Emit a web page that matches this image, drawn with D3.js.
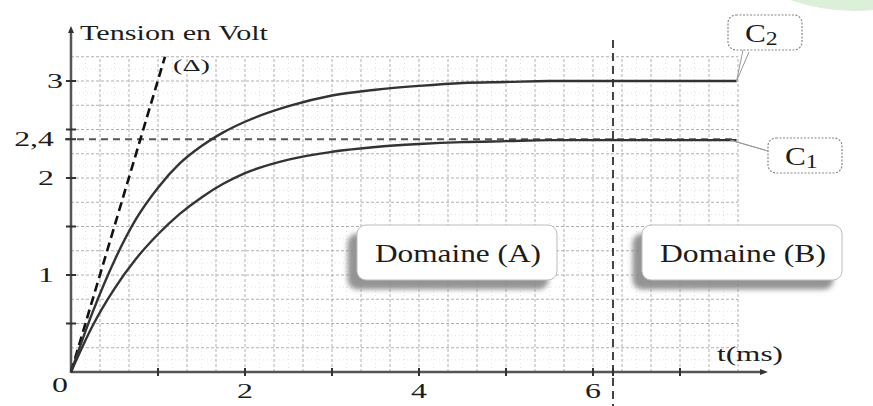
<!DOCTYPE html>
<html>
<head>
<meta charset="utf-8">
<script src="https://cdn.jsdelivr.net/npm/d3@7"></script>
<style>
  body { margin: 0; background: #fff; }
  text { font-family: "Liberation Serif", "DejaVu Serif", serif; fill: #1c1c1c; }
</style>
</head>
<body>
<div id="main"></div>
<script>
const ctx = {
    w: 873,
    h: 406,
    x0: 71, x1: 738,     // pixel range for t in [0, 23/3]
    y0: 372, y1: 81,     // pixel range for u in [0, 3]
    AXIS: "#555",
    CURVE: "#333",
    GRID: "#b0b0b0",
    SX: 1.45,            // the picture is stretched horizontally
};

// sample times (ms) and voltages (V)
const timesMs = [0, 0.25, 0.5, 0.75, 1, 1.25, 1.5, 1.75, 2, 2.5, 3, 3.5, 4, 4.5, 5, 5.5, 6, 7.65];
const c2Volts = [0, 0.62, 1.15, 1.58, 1.9, 2.15, 2.33, 2.47, 2.58, 2.74, 2.85, 2.91, 2.95, 2.98, 2.99, 3.0, 3.0, 3.0];
const c1Volts = [0, 0.48, 0.86, 1.17, 1.42, 1.63, 1.8, 1.94, 2.05, 2.19, 2.27, 2.32, 2.35, 2.37, 2.38, 2.39, 2.39, 2.39];
// tangent (Δ) at the origin
const deltaT = [0, 1.08];
const deltaU = [0, 3.25];
// reference levels
const U_REF = 2.4;
const T_DOMAIN = 6.23;
// ticks and labels
const xTicks = [1, 2, 3, 4, 5, 6, 7, 6.23];
const xLabels = [2, 4, 6];
const yTicks = [0.5, 1, 1.5, 2, 2.4, 2.5, 3];
const yLabels = [[1, "1"], [2, "2"], [2.4, "2,4"], [3, "3"]];
const domainNames = ["Domaine (A)", "Domaine (B)"];
const curveNames = ["C2", "C1"];

function createViz() {
    let svgEl = d3.select("#main").append("svg")
        .attr("width", ctx.w)
        .attr("height", ctx.h);
    let defs = svgEl.append("defs");
    let f = defs.append("filter").attr("id", "shadow")
        .attr("x", "-20%").attr("y", "-30%").attr("width", "140%").attr("height", "170%");
    f.append("feDropShadow").attr("dx", -9).attr("dy", 9).attr("stdDeviation", 2.5)
        .attr("flood-color", "#888").attr("flood-opacity", 0.9);

    ctx.x = d3.scaleLinear().domain([0, 23 / 3]).range([ctx.x0, ctx.x1]);
    ctx.y = d3.scaleLinear().domain([0, 3]).range([ctx.y0, ctx.y1]);

    // faint watermark blob top-right
    svgEl.append("path")
        .attr("d", "M790,0 Q830,14 873,10 L873,0 Z")
        .attr("fill", "#dcefd9");

    drawGrid(svgEl);
    drawDomains(svgEl);
    drawAxes(svgEl);
    drawCurves(svgEl);
    drawCallouts(svgEl);
};

// stretched text: x,y = anchor point in page pixels
function stretchedText(g, str, x, y, size, anchor) {
    return g.append("text")
        .attr("transform", `translate(${x},${y}) scale(${ctx.SX},1)`)
        .attr("text-anchor", anchor || "start")
        .style("font-size", size + "px")
        .text(str);
}

function drawGrid(svgEl) {
    let g = svgEl.append("g").attr("id", "grid");
    let x = ctx.x, y = ctx.y;
    let cols = d3.range(1, 24).map(i => i / 3);
    let rows = d3.range(1, 14).map(i => i / 4);
    // minor lines
    g.selectAll("line.vminor").data(d3.range(0, 23).map(i => i / 3 + 1 / 6)).enter().append("line")
        .attr("x1", d => x(d)).attr("x2", d => x(d))
        .attr("y1", y(0)).attr("y2", y(3.25))
        .attr("stroke", "#e2e2e2").attr("stroke-dasharray", "1,3");
    g.selectAll("line.hminor").data(d3.range(0, 13).map(i => i / 4 + 1 / 8)).enter().append("line")
        .attr("x1", x(0)).attr("x2", x(23 / 3))
        .attr("y1", d => y(d)).attr("y2", d => y(d))
        .attr("stroke", "#e2e2e2").attr("stroke-dasharray", "1,3");
    g.selectAll("line.v").data(cols).enter().append("line")
        .attr("x1", d => x(d)).attr("x2", d => x(d))
        .attr("y1", y(0)).attr("y2", y(3.25))
        .attr("stroke", ctx.GRID).attr("stroke-dasharray", "3,2");
    g.selectAll("line.h").data(rows).enter().append("line")
        .attr("x1", x(0)).attr("x2", x(23 / 3))
        .attr("y1", d => y(d)).attr("y2", d => y(d))
        .attr("stroke", ctx.GRID).attr("stroke-dasharray", "3,2");
};

function drawDomains(svgEl) {
    let g = svgEl.append("g").attr("id", "domains");
    domainNames.forEach(function (name, i) {
        let bx = i == 0 ? 357 : 642;
        g.append("rect")
            .attr("x", bx).attr("y", 225)
            .attr("width", 200).attr("height", 55).attr("rx", 9)
            .attr("fill", "#fff").attr("stroke", "#bbb")
            .attr("filter", "url(#shadow)");
        g.append("text")
            .attr("x", bx + 18).attr("y", 262)
            .attr("textLength", 166).attr("lengthAdjust", "spacingAndGlyphs")
            .style("font-size", "26px")
            .text(name);
    });
};

function drawAxes(svgEl) {
    let x = ctx.x, y = ctx.y;
    let g = svgEl.append("g").attr("id", "axes");
    // vertical dashed separation between domains
    g.append("line")
        .attr("x1", x(T_DOMAIN)).attr("x2", x(T_DOMAIN))
        .attr("y1", 40).attr("y2", ctx.h)
        .attr("stroke", "#444").attr("stroke-width", 2).attr("stroke-dasharray", "8,5");
    // 2,4 V reference
    g.append("line")
        .attr("x1", x(0) - 6).attr("x2", x(7.65))
        .attr("y1", y(U_REF)).attr("y2", y(U_REF))
        .attr("stroke", "#555").attr("stroke-width", 2).attr("stroke-dasharray", "7,5");
    // axis lines
    g.append("line")
        .attr("x1", x(0)).attr("x2", x(0)).attr("y1", y(0) + 1).attr("y2", 30)
        .attr("stroke", ctx.AXIS).attr("stroke-width", 2.5);
    g.append("line")
        .attr("x1", x(0)).attr("x2", 762).attr("y1", y(0)).attr("y2", y(0))
        .attr("stroke", ctx.AXIS).attr("stroke-width", 2.5);
    g.append("path").attr("d", `M${x(0) - 3},33 L${x(0)},26 L${x(0) + 3},33 Z`).attr("fill", "#333");
    g.append("path").attr("d", `M760,${y(0) - 3} L768,${y(0)} L760,${y(0) + 3} Z`).attr("fill", "#333");
    // ticks
    g.selectAll("line.xt").data(xTicks).enter().append("line")
        .attr("x1", d => x(d)).attr("x2", d => x(d))
        .attr("y1", y(0) - 4).attr("y2", y(0) + 4)
        .attr("stroke", "#333").attr("stroke-width", 2);
    g.selectAll("line.yt").data(yTicks).enter().append("line")
        .attr("x1", x(0) - 5).attr("x2", x(0) + 5)
        .attr("y1", d => y(d)).attr("y2", d => y(d))
        .attr("stroke", "#333").attr("stroke-width", 2);
    // tick labels
    xLabels.forEach(d => stretchedText(g, String(d), x(d), 398, 22, "middle"));
    stretchedText(g, "0", 60, 392, 22, "middle");
    yLabels.forEach(d => stretchedText(g, d[1], d[0] == 3 ? 63 : 54, y(d[0]) + 7, 22, "end"));
    // axis titles
    g.append("text").attr("x", 80).attr("y", 40)
        .attr("textLength", 188).attr("lengthAdjust", "spacingAndGlyphs")
        .style("font-size", "22px").text("Tension en Volt");
    g.append("text").attr("x", 717).attr("y", 361)
        .attr("textLength", 66).attr("lengthAdjust", "spacingAndGlyphs")
        .style("font-size", "21px").text("t(ms)");
    g.append("text").attr("x", 173).attr("y", 71)
        .attr("textLength", 37).attr("lengthAdjust", "spacingAndGlyphs")
        .style("font-size", "17px").text("(Δ)");
};

function drawCurves(svgEl) {
    let x = ctx.x, y = ctx.y;
    let g = svgEl.append("g").attr("id", "curves");
    let line = d3.line().x(d => x(d[0])).y(d => y(d[1])).curve(d3.curveMonotoneX);
    g.append("path")
        .attr("d", line(deltaT.map((t, i) => [t, deltaU[i]])))
        .attr("fill", "none").attr("stroke", "#111").attr("stroke-width", 2.6)
        .attr("stroke-dasharray", "9,5");
    [c2Volts, c1Volts].forEach(function (vals) {
        g.append("path")
            .attr("d", line(timesMs.map((t, i) => [t, vals[i]])))
            .attr("fill", "none").attr("stroke", ctx.CURVE).attr("stroke-width", 2.4);
    });
};

function drawCallouts(svgEl) {
    let x = ctx.x, y = ctx.y;
    let g = svgEl.append("g").attr("id", "callouts");
    let tEnd = timesMs[timesMs.length - 1];
    let specs = [
        { name: curveNames[0], bx: 728, by: 15, px: 746, py: 50, tx: x(tEnd), ty: y(c2Volts[c2Volts.length - 1]) },
        { name: curveNames[1], bx: 768, by: 138, px: 768, py: 150, tx: x(tEnd) - 6, ty: y(c1Volts[c1Volts.length - 1]) },
    ];
    specs.forEach(function (s) {
        g.append("path")
            .attr("d", `M${s.px - 3},${s.py} L${s.tx},${s.ty} L${s.px + 3},${s.py + 2}`)
            .attr("fill", "none").attr("stroke", "#999").attr("stroke-width", 1);
        g.append("rect")
            .attr("x", s.bx).attr("y", s.by).attr("width", 74).attr("height", 35).attr("rx", 8)
            .attr("fill", "#fff").attr("stroke", "#888").attr("stroke-width", 1.2)
            .attr("stroke-dasharray", "2,1.5");
        let t = g.append("text")
            .attr("transform", `translate(${s.bx + 17},${s.by + 27}) scale(1.25,1)`)
            .style("font-size", "25px");
        t.append("tspan").text(s.name[0]);
        t.append("tspan").attr("dy", 3).style("font-size", "19px").text(s.name.slice(1));
    });
};

createViz();
</script>
</body>
</html>
